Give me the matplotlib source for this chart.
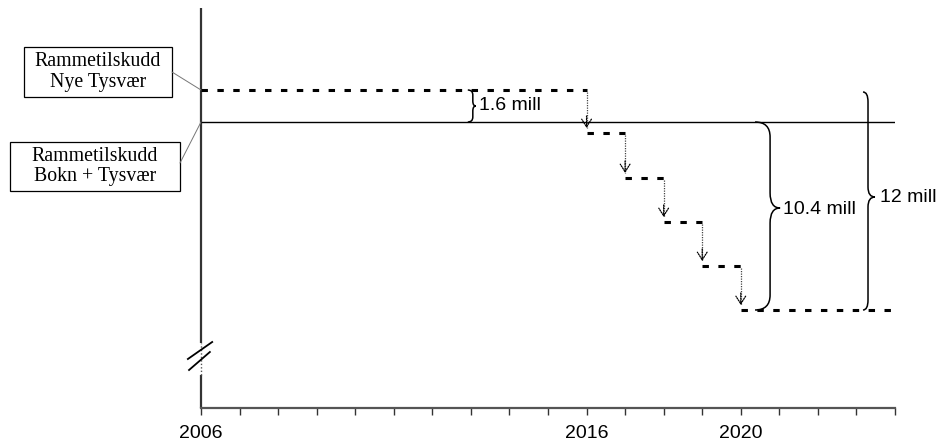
import matplotlib
matplotlib.use("Agg")
import matplotlib.pyplot as plt
from matplotlib.path import Path
from matplotlib.patches import PathPatch, Rectangle, ConnectionPatch

# ---------------- data ----------------
years_all = list(range(2006, 2025))
labelled_years = [2006, 2016, 2020]
top_level = 15.9          # Rammetilskudd Nye Tysvær
base_level = 14.3         # Rammetilskudd Bokn + Tysvær
step_years = [2016, 2017, 2018, 2019, 2020, 2024]
step_levels = [13.75, 11.5, 9.3, 7.1, 4.9]
brace_labels = ["1.6 mill", "10.4 mill", "12 mill"]
box_labels = ["Rammetilskudd\nNye Tysvær", "Rammetilskudd\nBokn + Tysvær"]

W, H = 946, 443
fig = plt.figure(figsize=(W / 100, H / 100), dpi=100)

# overlay for boxes (pixel coordinates)
ov = fig.add_axes([0, 0, 1, 1])
ov.set_xlim(0, W)
ov.set_ylim(H, 0)
ov.axis("off")

ax = fig.add_axes([201 / W, 35 / H, 694 / W, 400 / H])
ax.set_xlim(2006, 2024)
ax.set_ylim(0, 20)
ax.patch.set_visible(False)
for k, s in ax.spines.items():
    s.set_visible(k == "bottom")
ax.spines["bottom"].set_color("#555555")
ax.spines["bottom"].set_linewidth(1.6)
ax.set_xticks(years_all)
ax.set_xticklabels([str(y) if y in labelled_years else "" for y in years_all],
                   family="Liberation Sans", fontsize=14)
ax.tick_params(axis="x", length=5, width=1, color="#333333", pad=7)
ax.set_yticks([])

# left axis with break
ax.plot([2006, 2006], [3.25, 20], color="#333333", lw=1.6, clip_on=False, solid_capstyle="butt")
ax.plot([2006, 2006], [0, 1.65], color="#333333", lw=1.6, clip_on=False, solid_capstyle="butt")
ax.plot([2006, 2006], [1.65, 3.25], color="#555555", lw=1.0, ls=(0, (1, 1.5)), clip_on=False)
ax.plot([2005.66, 2006.29], [2.45, 3.3], color="black", lw=1.3, clip_on=False)
ax.plot([2005.69, 2006.23], [1.9, 2.8], color="black", lw=1.3, clip_on=False)

# levels
dash = dict(color="black", lw=2.2, ls=(0, (2.1, 3.1)), solid_capstyle="butt")
ax.plot([2006, step_years[0]], [top_level, top_level], **dash)
ax.plot([2006, 2024], [base_level, base_level], color="black", lw=1.0)
for i, lev in enumerate(step_levels):
    ax.plot([step_years[i], step_years[i + 1]], [lev, lev], **dash)

# dotted arrows
prev = [top_level] + step_levels[:-1]
for i, lev in enumerate(step_levels):
    x = step_years[i]
    tip = lev + 0.25
    ax.plot([x, x], [prev[i] - 0.1, tip], color="#444444", lw=0.9, ls=(0, (1, 1)))
    ax.annotate("", xy=(x, tip), xytext=(x, tip + 0.6),
                arrowprops=dict(arrowstyle="->,head_length=0.55,head_width=0.35",
                                lw=0.9, color="black", shrinkA=0, shrinkB=0,
                                linestyle=(0, (1, 1))))

# braces
def brace(x0, xs, xt, y0, y1, ym, r):
    verts = [(x0, y0), (xs, y0), (xs, y0 - r),
             (xs, ym + r), (xs, ym), (xt, ym),
             (xs, ym), (xs, ym - r),
             (xs, y1 + r), (xs, y1), (x0, y1)]
    codes = [Path.MOVETO, Path.CURVE3, Path.CURVE3,
             Path.LINETO, Path.CURVE3, Path.CURVE3,
             Path.CURVE3, Path.CURVE3,
             Path.LINETO, Path.CURVE3, Path.CURVE3]
    ax.add_patch(PathPatch(Path(verts, codes), fill=False, lw=1.1, ec="black",
                           clip_on=False))

final_level = step_levels[-1]
brace(2012.92, 2013.05, 2013.13, top_level, base_level, (top_level + base_level) / 2, 0.25)
brace(2020.37, 2020.76, 2021.02, base_level, final_level, 10.0, 0.75)
brace(2023.17, 2023.30, 2023.48, top_level - 0.1, final_level, 10.55, 0.5)

tfont = dict(family="Liberation Sans", fontsize=14, va="center", ha="left")
ax.text(2013.22, (top_level + base_level) / 2, brace_labels[0], **tfont)
ax.text(2021.1, 9.95, brace_labels[1], **tfont)
ax.text(2023.62, 10.55, brace_labels[2], **tfont)

# boxes
boxes = [(24, 47, 148, 50), (10, 142, 170, 49)]
for (bx, by, bw, bh), lab in zip(boxes, box_labels):
    ov.add_patch(Rectangle((bx, by), bw, bh, fill=False, lw=0.9, ec="black"))
    ov.text(bx + bw / 2, by + bh / 2, lab, ha="center", va="center",
            family="Liberation Serif", fontsize=14.3, linespacing=1.1)

for (xa, ya), lev in [((172, 72), top_level), ((180, 163), base_level)]:
    cp = ConnectionPatch(xyA=(xa, ya), coordsA=ov.transData,
                         xyB=(2006, lev), coordsB=ax.transData,
                         color="#777777", lw=0.7)
    fig.add_artist(cp)

fig.savefig("out.png", dpi=100)
